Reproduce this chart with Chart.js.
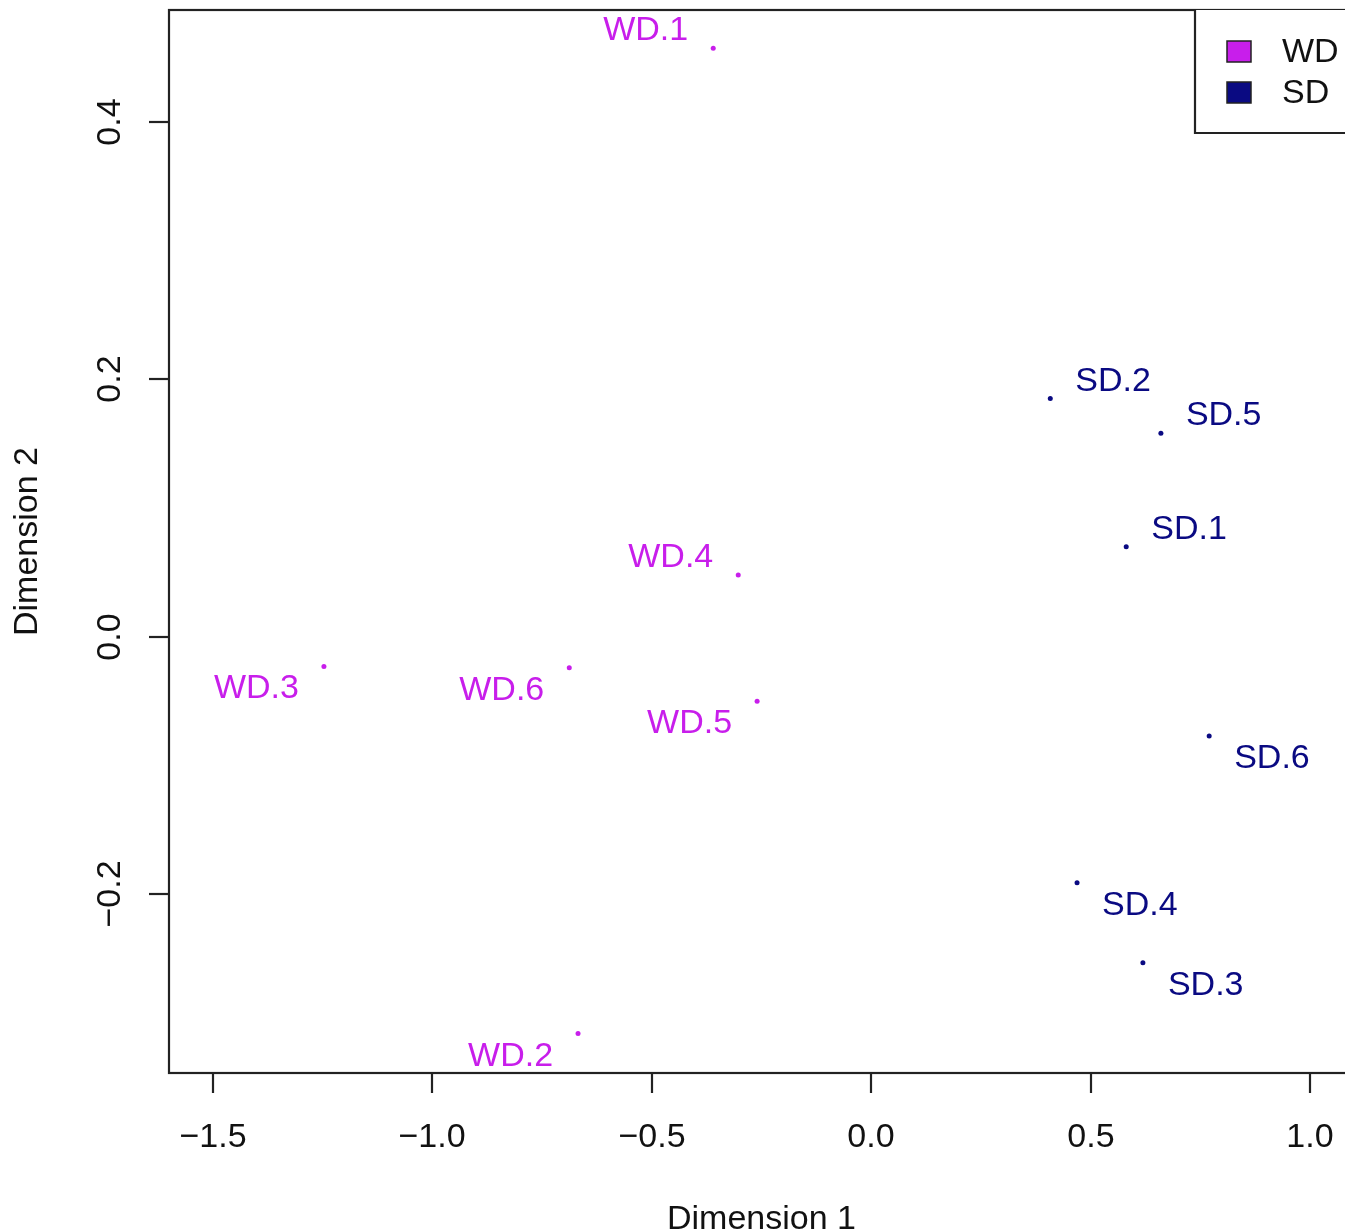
<!DOCTYPE html>
<html>
<head>
<meta charset="utf-8">
<script src="https://cdn.jsdelivr.net/npm/chart.js@4.4.1/dist/chart.umd.min.js"></script>
<style>
html,body{margin:0;padding:0;background:#fff;overflow:hidden;width:1345px;height:1232px;}
#wrap{position:absolute;left:0;top:0;width:1360px;height:1232px;}
</style>
</head>
<body>
<div id="wrap"><canvas id="c" width="1360" height="1232"></canvas></div>
<script>
// ---- data ----
const wdLabels = ["WD.1","WD.2","WD.3","WD.4","WD.5","WD.6"];
const wdX = [-0.360, -0.668, -1.247, -0.303, -0.260, -0.688];
const wdY = [0.457, -0.308, -0.023, 0.048, -0.050, -0.024];
const sdLabels = ["SD.1","SD.2","SD.3","SD.4","SD.5","SD.6"];
const sdX = [0.581, 0.408, 0.619, 0.469, 0.660, 0.770];
const sdY = [0.070, 0.185, -0.253, -0.191, 0.158, -0.077];
const xTickValues = [-1.5, -1.0, -0.5, 0.0, 0.5, 1.0];
const xTickLabels = ["\u22121.5", "\u22121.0", "\u22120.5", "0.0", "0.5", "1.0"];
const yTickValues = [-0.2, 0.0, 0.2, 0.4];
const yTickLabels = ["\u22120.2", "0.0", "0.2", "0.4"];
const groupNames = ["WD", "SD"];
const xTitle = "Dimension 1";
const yTitle = "Dimension 2";

const WD_COLOR = "#C81EEB";
const SD_COLOR = "#0A0A82";
const FONT = '34px "Liberation Sans", Arial, Helvetica, sans-serif';

function pts(xs, ys){ return xs.map((x,i)=>({x:x, y:ys[i]})); }

const rPlot = {
  id: 'rPlot',
  afterDraw(chart){
    const ctx = chart.ctx;
    const xs = chart.scales.x, ys = chart.scales.y;
    const L = xs.left, R = xs.right, T = ys.top, B = ys.bottom;
    ctx.save();
    // frame
    ctx.strokeStyle = '#222';
    ctx.lineWidth = 2.2;
    ctx.strokeRect(L, T, R-L, B-T);
    ctx.font = FONT;
    ctx.fillStyle = '#111';
    // x ticks
    ctx.textAlign = 'center';
    ctx.textBaseline = 'alphabetic';
    xTickValues.forEach((v,i)=>{
      const px = Math.round(xs.getPixelForValue(v));
      ctx.beginPath(); ctx.moveTo(px, B); ctx.lineTo(px, B+20); ctx.stroke();
      ctx.fillText(xTickLabels[i], px, 1147);
    });
    // y ticks
    yTickValues.forEach((v,i)=>{
      const py = Math.round(ys.getPixelForValue(v));
      ctx.beginPath(); ctx.moveTo(L, py); ctx.lineTo(L-20, py); ctx.stroke();
      ctx.save();
      ctx.translate(120, py);
      ctx.rotate(-Math.PI/2);
      ctx.textAlign = 'center';
      ctx.fillText(yTickLabels[i], 0, 0);
      ctx.restore();
    });
    // axis titles
    ctx.textAlign = 'center';
    ctx.fillText(xTitle, (L+R)/2, 1229);
    ctx.save();
    ctx.translate(37, (T+B)/2);
    ctx.rotate(-Math.PI/2);
    ctx.fillText(yTitle, 0, 0);
    ctx.restore();
    // point labels
    const drawLabels = (labels, xv, yv, color, side) => {
      ctx.fillStyle = color;
      labels.forEach((lab,i)=>{
        const px = xs.getPixelForValue(xv[i]);
        const py = ys.getPixelForValue(yv[i]);
        const above = yv[i] > 0;
        ctx.textAlign = side < 0 ? 'right' : 'left';
        const tx = px + side*25;
        const ty = py + (above ? -20 : 20) + 12;
        ctx.fillText(lab, tx, ty);
      });
    };
    drawLabels(wdLabels, wdX, wdY, WD_COLOR, -1);
    drawLabels(sdLabels, sdX, sdY, SD_COLOR, 1);
    // legend
    ctx.fillStyle = '#fff';
    ctx.fillRect(1195, T, R-1195, 133-T);
    ctx.strokeStyle = '#222';
    ctx.lineWidth = 2.2;
    ctx.beginPath();
    ctx.moveTo(1195, T); ctx.lineTo(1195, 133); ctx.lineTo(R, 133);
    ctx.stroke();
    const legColors = [WD_COLOR, SD_COLOR];
    const legY = [41, 82];
    ctx.lineWidth = 1.5;
    groupNames.forEach((g,i)=>{
      ctx.fillStyle = legColors[i];
      ctx.fillRect(1227, legY[i], 24, 21);
      ctx.strokeStyle = '#222';
      ctx.strokeRect(1227, legY[i], 24, 21);
      ctx.fillStyle = '#111';
      ctx.textAlign = 'left';
      ctx.fillText(g, 1282, legY[i] + 21);
    });
    ctx.restore();
  }
};

new Chart(document.getElementById('c'), {
  type: 'scatter',
  data: {
    datasets: [
      { label: groupNames[0], data: pts(wdX, wdY), backgroundColor: WD_COLOR, borderColor: WD_COLOR, pointRadius: 2.5, borderWidth: 0 },
      { label: groupNames[1], data: pts(sdX, sdY), backgroundColor: SD_COLOR, borderColor: SD_COLOR, pointRadius: 2.5, borderWidth: 0 }
    ]
  },
  options: {
    responsive: false,
    animation: false,
    devicePixelRatio: 1,
    layout: { padding: { left: 169, right: 6, top: 10, bottom: 159 } },
    plugins: { legend: { display: false }, tooltip: { enabled: false } },
    scales: {
      x: { type: 'linear', min: -1.6, max: 1.1, display: false },
      y: { type: 'linear', min: -0.3386, max: 0.4866, display: false }
    }
  },
  plugins: [rPlot]
});
</script>
</body>
</html>
